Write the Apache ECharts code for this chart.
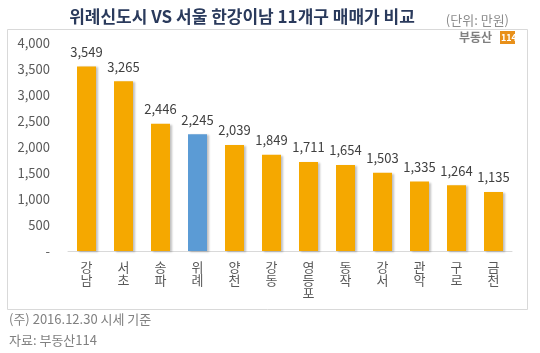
<!DOCTYPE html>
<html><head><meta charset="utf-8">
<script src="https://cdn.jsdelivr.net/npm/echarts@6/dist/echarts.min.js"></script>
<style>html,body{margin:0;padding:0;background:#fff}#c{width:540px;height:353px}</style>
</head><body><div id="c"></div>
<script>
const categories = ['강남','서초','송파','위례','양천','강동','영등포','동작','강서','관악','구로','금천'];
const values = [3549,3265,2446,2245,2039,1849,1711,1654,1503,1335,1264,1135];
const highlight = '위례';
const yTicks = [0,500,1000,1500,2000,2500,3000,3500,4000];

const font = '"Malgun Gothic","Noto Sans CJK KR",sans-serif';
const chart = echarts.init(document.getElementById('c'));
chart.setOption({
  backgroundColor:'#fff',
  animation:false,
  title:{text:'위례신도시 VS 서울 한강이남 11개구 매매가 비교',left:237,top:3,textAlign:'center',
    textStyle:{fontFamily:font,fontSize:17,fontWeight:'bold',color:'#2a3a5c'}},
  graphic:[
    {type:'rect',shape:{x:7.5,y:29.5,width:520,height:280},style:{fill:'none',stroke:'#d9d9d9',lineWidth:1},z:-1},
    {type:'text',right:31,top:14,style:{text:'(단위: 만원)',font:'13px '+font,fill:'#8c8c8c'}},
    {type:'text',left:459,top:31,style:{text:'부동산',font:'bold 12px '+font,fill:'#7f7f7f'}},
    {type:'rect',shape:{x:500,y:31,width:15,height:13},style:{fill:'#e8901a'}},
    {type:'text',left:501,top:33,style:{text:'114',font:'bold 9px '+font,fill:'#fff'}},
    {type:'text',left:9,top:313,style:{text:'(주) 2016.12.30 시세 기준',font:'13px '+font,fill:'#808080'}},
    {type:'text',left:9,top:334,style:{text:'자료: 부동산114',font:'13px '+font,fill:'#808080'}}
  ],
  grid:{left:68,right:28,top:43,bottom:102},
  xAxis:{type:'category',data:categories,
    axisLine:{lineStyle:{color:'#d9d9d9'}},axisTick:{show:false},
    axisLabel:{interval:0,margin:10,lineHeight:13,fontFamily:font,fontSize:13,color:'#595959',
      formatter:v=>v.split('').join('\n')}},
  yAxis:{type:'value',min:0,max:4000,interval:500,
    splitLine:{show:false},axisLine:{show:false},axisTick:{show:false},
    axisLabel:{margin:18,fontFamily:font,fontSize:13,color:'#595959',
      formatter:v=>v===0?'-':v.toLocaleString('en-US')}},
  series:[{type:'bar',barWidth:19,
    data:values.map((v,i)=>({value:v,itemStyle:{color:categories[i]===highlight?'#5b9bd5':'#f5a800'}})),
    itemStyle:{shadowColor:'rgba(0,0,0,0.25)',shadowOffsetX:2,shadowOffsetY:1,shadowBlur:2},
    label:{show:true,position:'top',distance:8,fontFamily:font,fontSize:13,color:'#404040',
      formatter:p=>p.value.toLocaleString('en-US')}}]
});
</script></body></html>
